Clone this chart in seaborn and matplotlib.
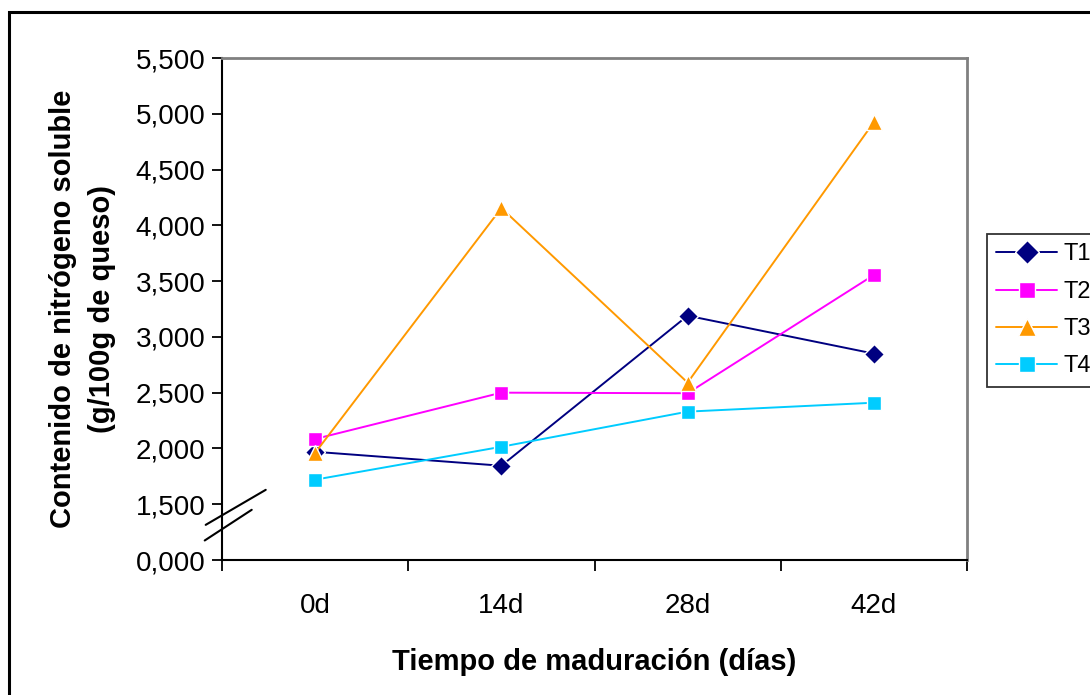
import matplotlib
matplotlib.use("Agg")
import matplotlib.pyplot as plt
import matplotlib.transforms as mtransforms
from matplotlib.patches import Rectangle
import pandas as pd
import seaborn as sns

# Soluble nitrogen content (g/100 g cheese) by ripening time
days = ["0d", "14d", "28d", "42d"]
t1 = [1.970, 1.845, 3.190, 2.850]
t2 = [2.085, 2.500, 2.495, 3.555]
t3 = [1.960, 4.155, 2.590, 4.925]
t4 = [1.720, 2.015, 2.330, 2.410]
series_names = ["T1", "T2", "T3", "T4"]
y_ticks = [1.0, 1.5, 2.0, 2.5, 3.0, 3.5, 4.0, 4.5, 5.0, 5.5]
y_tick_labels = ["0,000", "1,500", "2,000", "2,500", "3,000",
                 "3,500", "4,000", "4,500", "5,000", "5,500"]

sns.set_theme(style="white")
plt.rcParams["font.family"] = ["Liberation Sans", "DejaVu Sans"]
plt.rcParams.update({"text.color": "black", "axes.labelcolor": "black",
                     "xtick.color": "black", "ytick.color": "black"})

rows = []
for name, vals in zip(series_names, [t1, t2, t3, t4]):
    for i, v in enumerate(vals):
        rows.append({"dia": i, "valor": v, "serie": name})
df = pd.DataFrame(rows)

palette = {"T1": "#000080", "T2": "#FF00FF", "T3": "#FF9900", "T4": "#00CCFF"}
markers = {"T1": "D", "T2": "s", "T3": "^", "T4": "s"}
marker_sizes = {"T1": 10.5, "T2": 9.5, "T3": 11.5, "T4": 9.5}

fig = plt.figure(figsize=(10.9, 6.95), dpi=100)
fig.patch.set_facecolor("white")
ax = fig.add_axes([222 / 1090, 1 - 560 / 695, (967 - 222) / 1090, (560 - 58) / 695])

sns.lineplot(data=df, x="dia", y="valor", hue="serie", style="serie",
             palette=palette, markers=markers, dashes=False,
             markersize=10, linewidth=1.4, markeredgewidth=1,
             ax=ax, legend=True)

for line, name in zip(ax.lines, series_names):
    line.set_markersize(marker_sizes[name])

ax.set_xlim(-0.5, 3.5)
ax.set_ylim(1.0, 5.5)

# Category boundaries carry the tick marks; labels sit at category centres
ax.set_xticks([-0.5, 0.5, 1.5, 2.5, 3.5])
ax.set_xticklabels([])
ax.set_xticks([0, 1, 2, 3], minor=True)
ax.set_xticklabels(days, minor=True, fontsize=20)
ax.tick_params(axis="x", which="major", direction="out", length=8, width=1.3,
               color="black", bottom=True)
ax.tick_params(axis="x", which="minor", length=0, pad=24)

ax.set_yticks(y_ticks)
ax.set_yticklabels(y_tick_labels, fontsize=20)
ax.tick_params(axis="y", direction="out", length=7.5, width=1.3, color="black",
               left=True, pad=4.5)

for side in ["left", "bottom"]:
    ax.spines[side].set_color("black")
    ax.spines[side].set_linewidth(1.5)
for side in ["top", "right"]:
    ax.spines[side].set_color("#808080")
    ax.spines[side].set_linewidth(2)

ax.set_xlabel("Tiempo de maduración (días)", fontsize=21, fontweight="bold",
              labelpad=21)
ax.set_ylabel("Contenido de nitrógeno soluble\n(g/100g de queso)", fontsize=21,
              fontweight="bold", labelpad=14, linespacing=1.5)

# Axis break marks between 0,000 and 1,500
trans = mtransforms.blended_transform_factory(ax.transAxes, ax.transData)
ax.plot([-0.0219, 0.0587], [1.315, 1.629], color="black", lw=1.5,
        transform=trans, clip_on=False)
ax.plot([-0.0232, 0.0399], [1.175, 1.450], color="black", lw=1.5,
        transform=trans, clip_on=False)

handles, labels = ax.get_legend_handles_labels()
for h, name in zip(handles, labels):
    h.set_markersize(marker_sizes[name] + 1.5)
leg = ax.legend(handles, labels, loc="upper left",
                bbox_to_anchor=(987 / 1090, 1 - 234 / 695),
                bbox_transform=fig.transFigure, frameon=True, fancybox=False,
                fontsize=17, handlelength=2.55, handletextpad=0.3,
                labelspacing=0.65, borderpad=0.4, borderaxespad=0)
leg.get_frame().set_edgecolor("black")
leg.get_frame().set_linewidth(1.3)

# Outer chart border
fig.add_artist(Rectangle((9 / 1090, -0.05), 1.2, 1 - 12 / 695 + 0.05,
                         transform=fig.transFigure, fill=False,
                         edgecolor="black", linewidth=2.2))

fig.savefig("out.png", dpi=100)
